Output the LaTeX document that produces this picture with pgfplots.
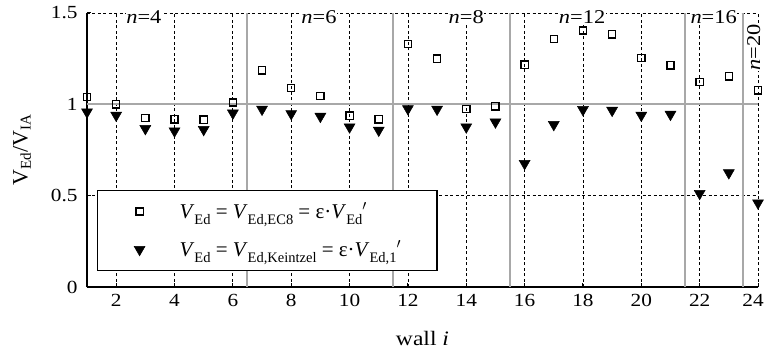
\documentclass[border=0pt]{standalone}
\usepackage{fontspec}
\setmainfont{Liberation Serif}[FakeStretch=1.15]
\newfontfamily\legrm{Liberation Serif}
\usepackage{pgfplots}
\pgfplotsset{compat=1.18}
\definecolor{refgray}{RGB}{168,168,168}
\newcommand{\tickfont}{\fontsize{18.5}{22}\selectfont}
\newcommand{\labfont}{\fontsize{20.5}{24}\selectfont}
\newcommand{\legfont}{\legrm\fontsize{21}{24}\selectfont}
\newcommand{\yfont}{\legrm\fontsize{22}{24}\selectfont}
\newcommand{\nfont}{\fontsize{19.5}{22}\selectfont}
\newcommand{\sub}[1]{\raisebox{-6pt}{\fontsize{14.5}{15}\selectfont #1}}
\newcommand{\ysub}[1]{$_{\hbox{\fontsize{15}{15}\selectfont #1}}$}
\pgfplotsset{myleg/.style={legend image code/.code={\path[draw=none,fill=none] (0pt,-2pt) rectangle (58pt,2pt); \draw[mark repeat=2,mark phase=2,##1] plot coordinates {(0pt,0pt) (29pt,0pt) (58pt,0pt)};}}}
\begin{document}
\begin{tikzpicture}
\begin{axis}[
  name=main,
  scale only axis, width=671pt, height=274pt,
  xmin=1, xmax=24, ymin=0, ymax=1.5,
  axis x line*=bottom, axis y line*=left,
  axis line style={line width=1.3pt, black},
  xtick={2,4,...,24}, ytick={0,0.5,1,1.5},
  xticklabels={2,4,6,8,10,12,14,16,18,20,22,{24\kern10pt}},
  grid=major,
  major grid style={black, line width=0.8pt, dash pattern=on 3pt off 2.5pt},
  extra x ticks={6.5,11.5,15.5,21.5,23.5}, extra x tick labels={},
  extra x tick style={grid=major, major grid style={refgray, solid, line width=2pt}, major tick length=0pt},
  extra y ticks={1}, extra y tick labels={},
  extra y tick style={grid=major, major grid style={refgray, solid, line width=2pt}, major tick length=0pt},
  tick style={black, line width=1pt}, major tick length=4pt, tick align=inside,
  ticklabel style={font=\tickfont},
  /pgf/number format/assume math mode=true,
  xticklabel style={yshift=-4pt},
  yticklabel style={xshift=-6pt},
  clip=false,
  xlabel={wall \textit{i}},
  xlabel style={font=\labfont, at={(axis description cs:0.5,0)}, anchor=base, yshift=-58pt},
  legend style={at={(axis description cs:0.0149,0.058)}, anchor=south west, draw=black,
    line width=1.2pt, font=\legfont, inner xsep=13pt, inner ysep=10.5pt, row sep=17pt,
    column sep=9pt, cells={anchor=west}},
]
\addplot[only marks, mark=square, mark size=3.6pt, mark options={line width=1.3pt, black}, myleg] coordinates {
(1,1.04)(2,1.0)(3,0.925)(4,0.918)(5,0.916)(6,1.01)(7,1.186)(8,1.089)(9,1.045)(10,0.938)(11,0.918)(12,1.33)(13,1.25)(14,0.974)(15,0.989)(16,1.217)(17,1.357)(18,1.404)(19,1.383)(20,1.255)(21,1.213)(22,1.122)(23,1.153)(24,1.077)};
\addlegendentry{\textit{V}\sub{Ed} = \textit{V}\sub{Ed,EC8} = ε·\textit{V}\sub{Ed}$'$}
\addplot[only marks, mark=triangle*, mark size=6.3pt, mark options={rotate=180, fill=black, draw=black, line width=0.5pt}, myleg] coordinates {
(1,0.958)(2,0.94)(3,0.867)(4,0.854)(5,0.862)(6,0.952)(7,0.973)(8,0.949)(9,0.934)(10,0.876)(11,0.858)(12,0.976)(13,0.973)(14,0.876)(15,0.903)(16,0.676)(17,0.889)(18,0.971)(19,0.967)(20,0.94)(21,0.945)(22,0.512)(23,0.625)(24,0.46)};
\addlegendentry{\textit{V}\sub{Ed} = \textit{V}\sub{Ed,Keintzel} = ε·\textit{V}\sub{Ed,1}$'$\hspace*{21pt}}
\node[fill=white, inner sep=0.5pt, font=\nfont] at (axis cs:2.95,1.48) {\textit{n}=4};
\node[fill=white, inner sep=0.5pt, font=\nfont] at (axis cs:8.95,1.48) {\textit{n}=6};
\node[fill=white, inner sep=0.5pt, font=\nfont] at (axis cs:14.0,1.48) {\textit{n}=8};
\node[fill=white, inner sep=0.5pt, font=\nfont] at (axis cs:17.97,1.48) {\textit{n}=12};
\node[fill=white, inner sep=0.5pt, font=\nfont] at (axis cs:22.48,1.48) {\textit{n}=16};
\node[fill=white, inner sep=0.5pt, font=\nfont, rotate=90] at (axis cs:23.85,1.31) {\textit{n}=20};
\end{axis}
\node[rotate=90, inner sep=0.5pt, font=\yfont] at ([xshift=-65pt]main.west) {V\ysub{Ed}/V\ysub{IA}};
\pgfresetboundingbox
\path[use as bounding box] ([shift={(-87pt,-64pt)}]main.south west) rectangle ([shift={(7pt,13pt)}]main.north east);
\end{tikzpicture}
\end{document}
